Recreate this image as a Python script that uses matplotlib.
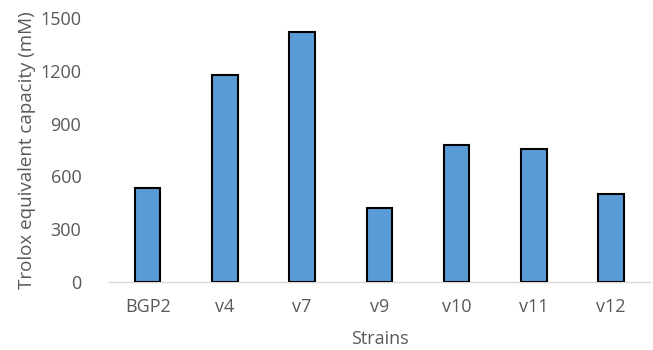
import matplotlib.pyplot as plt

strains = ['BGP2', 'v4', 'v7', 'v9', 'v10', 'v11', 'v12']
trolox = [536, 1177, 1422, 420, 776, 757, 502]
y_ticks = [0, 300, 600, 900, 1200, 1500]

plt.rcParams['font.family'] = ['Open Sans', 'DejaVu Sans']
grey = '#595959'

fig = plt.figure(figsize=(6.53, 3.5), dpi=100)
ax = fig.add_axes([0.167, 0.195, 0.828, 0.7526])

ax.bar(range(len(strains)), trolox, width=0.33, color='#5B9BD5',
       edgecolor='black', linewidth=1.5, zorder=3)

ax.set_xlim(-0.5, len(strains) - 0.5)
ax.set_ylim(0, 1500)
ax.set_yticks(y_ticks)
ax.set_xticks(range(len(strains)))
ax.set_xticklabels(strains)

for side in ['top', 'right', 'left']:
    ax.spines[side].set_visible(False)
ax.spines['bottom'].set_color('#D9D9D9')
ax.spines['bottom'].set_linewidth(1)
ax.tick_params(length=0, labelsize=13, labelcolor=grey)
ax.tick_params(axis='y', pad=20)
ax.tick_params(axis='x', pad=12)

ax.set_xlabel('Strains', fontsize=13, color=grey, labelpad=10)
ax.set_ylabel('Trolox equivalent capacity (mM)', fontsize=13.5, color=grey, labelpad=3)

fig.savefig('out.png', dpi=100)
